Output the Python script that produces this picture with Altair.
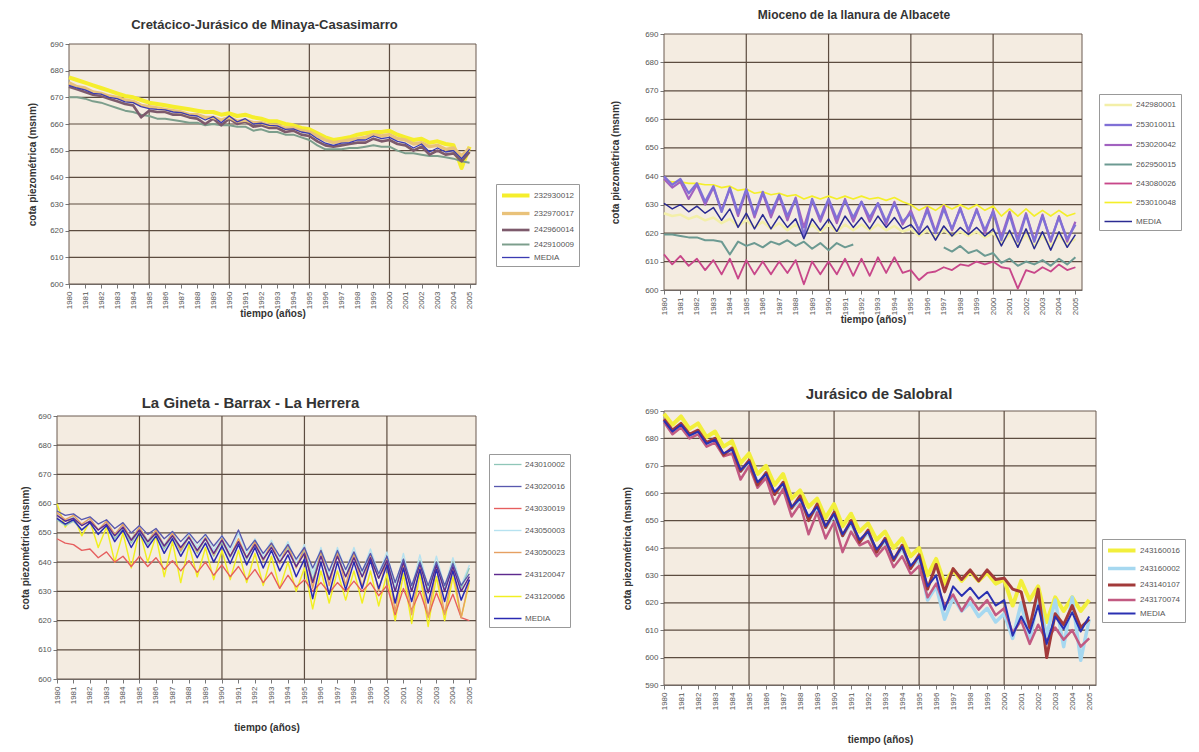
import altair as alt
import pandas as pd

# ---------------- shared axes data ----------------
T = [1980 + 0.5 * i for i in range(51)]          # half-year time grid 1980 .. 2005
YEARS = list(range(1980, 2006))
VGRID = [1985, 1990, 1995, 2000]
X_END = 2005.4

# ---------------- Panel 1 ----------------
P1_TITLE = "Cretácico-Jurásico de Minaya-Casasimarro"
P1_NAMES = ["232930012", "232970017", "242960014", "242910009", "MEDIA"]
P1_COLORS = ["#f5ee2c", "#e9c27a", "#7d5a6c", "#7c9e8c", "#3b3bb2"]
P1_WIDTHS = [4.0, 1.3, 1.3, 1.3, 3.5]
P1_ORDER = ["232930012", "242910009", "242960014", "232970017", "MEDIA"]
p1_232930012 = [677.5, 676.5, 675.5, 674.5, 673.5, 672.5, 671.5, 670.5, 670.0, 669.0,
                668.0, 667.5, 667.0, 666.5, 666.0, 665.5, 665.0, 664.5, 664.5, 663.5,
                664.0, 663.0, 663.5, 662.5, 662.0, 661.0, 661.0, 660.0, 659.5, 658.5,
                658.0, 656.5, 655.0, 654.0, 654.5, 655.0, 656.0, 656.5, 657.0, 657.0,
                657.5, 656.0, 655.0, 654.0, 654.5, 653.0, 653.5, 652.5, 652.0, 643.5,
                651.5]
p1_232970017 = [675.5, 674.0, 673.5, 672.0, 671.5, 670.5, 670.0, 669.0, 668.5, 667.0,
                666.5, 666.0, 665.5, 665.0, 664.5, 663.5, 663.5, 662.5, 662.5, 661.5,
                662.5, 661.0, 661.5, 660.5, 660.5, 659.5, 659.5, 658.5, 658.5, 657.5,
                657.0, 655.5, 654.0, 653.0, 653.5, 654.0, 654.5, 655.0, 656.0, 655.5,
                656.0, 654.5, 654.0, 652.5, 653.0, 651.5, 652.0, 650.5, 651.0, 648.0,
                651.0]
p1_242960014 = [674.0, 673.0, 672.0, 671.0, 670.5, 669.5, 668.5, 667.5, 667.0, 662.5,
                665.0, 664.5, 664.5, 663.5, 663.5, 662.5, 662.0, 660.0, 662.0, 659.5,
                662.0, 660.0, 661.0, 659.0, 659.5, 658.5, 658.5, 657.0, 657.5, 656.0,
                655.5, 653.5, 652.0, 651.5, 652.0, 652.5, 653.0, 653.0, 654.5, 653.5,
                654.0, 652.5, 652.0, 650.0, 651.5, 648.5, 650.0, 648.5, 649.0, 646.0,
                649.5]
p1_242910009 = [670.0, 670.0, 669.5, 668.5, 668.0, 667.0, 666.0, 665.0, 664.5, 663.5,
                663.0, 662.0, 662.0, 661.5, 661.0, 660.5, 660.5, 659.5, 660.0, 659.5,
                659.5, 659.0, 659.0, 657.5, 658.0, 657.0, 657.0, 656.0, 656.0, 655.0,
                654.0, 652.0, 650.5, 650.5, 650.5, 651.0, 651.0, 651.5, 652.0, 651.5,
                651.5, 650.0, 649.0, 649.0, 648.5, 648.0, 648.0, 647.5, 647.0, 646.0,
                645.5]
p1_media = [674.5, 673.5, 672.8, 671.5, 671.2, 670.0, 669.5, 668.3, 668.0, 666.5,
            665.8, 665.5, 665.3, 664.5, 664.3, 663.3, 663.0, 661.5, 662.8, 660.5,
            663.0, 660.8, 662.0, 660.0, 660.3, 659.5, 659.3, 658.0, 658.2, 657.0,
            656.5, 654.5, 652.8, 652.0, 652.8, 653.0, 654.0, 654.0, 655.5, 654.5,
            655.0, 653.5, 652.8, 651.0, 652.5, 649.5, 651.0, 649.5, 650.0, 647.0,
            650.5]

# ---------------- Panel 2 ----------------
P2_TITLE = "Mioceno de la llanura de Albacete"
P2_NAMES = ["242980001", "253010011", "253020042", "262950015", "243080026", "253010048", "MEDIA"]
P2_COLORS = ["#f3efa8", "#8070d6", "#a262c0", "#6c9a92", "#c8478a", "#f4ef2a", "#2b2b92"]
P2_WIDTHS = [2.5, 1.5, 1.5, 1.2, 1.5, 4.0, 3.5]
P2_ORDER = ["242980001", "253010048", "262950015", "243080026", "253020042", "253010011", "MEDIA"]
p2_242980001 = [627.0, 626.0, 626.5, 625.0, 626.0, 624.5, 625.5, 623.5, 625.0, 622.5,
                624.5, 622.0, 624.0, 621.5, 623.5, 621.0, 623.0, 620.0, 623.0, 620.5,
                623.0, 620.5, 623.0, 621.0, 623.0, 621.0, 623.0, 621.0, 622.5, 620.5,
                621.5, 619.0, 621.0, 618.5, 621.0, 619.0, 620.5, 619.0, 620.5, 618.5,
                620.0, 616.5, 619.5, 616.0, 619.5, 615.5, 619.0, 615.5, 619.0, 616.0,
                618.0]
p2_253010011 = [640.0, 637.0, 639.0, 634.0, 637.5, 631.0, 636.5, 627.5, 636.0, 627.0,
                635.5, 626.5, 634.5, 627.0, 633.5, 626.0, 632.0, 619.0, 632.0, 625.0,
                632.0, 625.0, 631.5, 625.5, 631.0, 625.5, 630.5, 624.0, 630.5, 624.0,
                627.0, 621.0, 628.0, 620.0, 628.5, 621.5, 628.5, 621.0, 628.0, 621.0,
                627.5, 617.5, 626.5, 617.0, 626.5, 617.0, 626.0, 617.5, 625.5, 618.0,
                623.0]
p2_253020042 = [639.0, 636.0, 638.0, 632.0, 637.0, 630.0, 636.0, 628.0, 635.5, 626.0,
                635.0, 625.5, 634.0, 625.5, 633.0, 624.5, 632.5, 622.0, 631.5, 624.0,
                631.5, 623.5, 632.0, 624.0, 631.0, 624.0, 630.5, 623.0, 631.0, 623.0,
                628.0, 620.5, 629.0, 620.5, 629.5, 621.0, 629.0, 620.5, 628.5, 620.0,
                628.0, 618.5, 627.5, 618.0, 627.0, 617.5, 626.5, 617.0, 626.0, 617.0,
                624.0]
p2_262950015_a = [619.5, 619.5, 619.0, 618.5, 618.5, 617.5, 617.5, 617.0, 612.5, 617.0,
                  615.5, 616.5, 615.0, 617.0, 616.0, 617.5, 615.5, 617.0, 614.5, 616.5,
                  614.0, 616.5, 615.0, 616.0]
p2_262950015_b = [615.0, 613.5, 615.5, 613.0, 614.0, 612.0, 613.0, 609.5, 611.0, 608.5,
                  610.0, 609.0, 610.5, 608.5, 611.0, 609.0, 611.5]
p2_243080026 = [612.5, 609.0, 612.0, 608.5, 611.0, 607.0, 610.5, 605.5, 611.0, 604.0,
                610.5, 605.5, 610.0, 605.5, 610.0, 606.0, 610.5, 602.0, 610.0, 605.5,
                610.0, 605.5, 611.0, 605.0, 611.0, 605.0, 611.5, 606.0, 611.5, 606.0,
                607.0, 603.5, 606.0, 606.5, 608.0, 607.0, 609.0, 608.5, 610.0, 609.0,
                610.0, 608.0, 607.5, 600.5, 607.0, 606.0, 608.0, 606.5, 609.0, 607.0,
                608.0]
p2_253010048 = [638.5, 638.0, 638.0, 637.5, 637.5, 637.0, 637.0, 636.0, 636.5, 635.0,
                635.5, 634.0, 634.5, 633.5, 634.0, 633.0, 633.5, 632.0, 633.0, 632.0,
                633.0, 632.0, 633.0, 632.0, 633.0, 632.0, 632.5, 631.5, 632.5, 631.0,
                630.0, 628.0, 629.5, 628.0, 630.0, 628.5, 630.0, 628.5, 630.0, 628.0,
                629.5, 626.0, 628.5, 626.0, 628.5, 626.0, 628.0, 626.0, 628.0, 626.0,
                627.0]
p2_media = [630.5, 628.5, 630.0, 627.5, 629.5, 627.0, 629.0, 624.5, 628.5, 622.0,
            627.0, 621.5, 626.5, 621.5, 626.0, 622.0, 625.0, 618.0, 625.0, 621.0,
            625.0, 620.5, 626.0, 622.0, 625.5, 621.5, 626.0, 622.0, 625.5, 621.5,
            623.0, 619.5, 622.5, 617.5, 622.5, 619.0, 622.0, 619.5, 622.0, 619.0,
            621.5, 615.5, 621.0, 615.0, 621.5, 614.5, 620.5, 614.0, 620.5, 615.0,
            619.5]

# ---------------- Panel 3 ----------------
P3_TITLE = "La Gineta - Barrax - La Herrera"
P3_NAMES = ["243010002", "243020016", "243030019", "243050003", "243050023", "243120047", "243120066", "MEDIA"]
P3_COLORS = ["#8fc6b8", "#5858ae", "#e65e5e", "#b6e2f0", "#e6a062", "#5e2a8e", "#f1ef22", "#2a2ab2"]
P3_WIDTHS = [1.3, 1.5, 1.3, 1.6, 1.5, 1.5, 4.0, 3.5]
P3_ORDER = ["243120066", "243050003", "243010002", "243030019", "243050023", "243120047", "243020016", "MEDIA"]
p3_243010002 = [654.5, 652.5, 654.0, 651.0, 653.5, 649.5, 652.5, 648.0, 651.5, 646.5,
                651.0, 646.0, 650.0, 644.5, 649.0, 643.5, 648.5, 643.0, 648.0, 642.0,
                647.0, 641.5, 647.0, 641.0, 646.0, 640.5, 645.5, 639.5, 645.0, 638.5,
                644.0, 634.0, 643.5, 634.0, 643.0, 635.0, 643.0, 635.0, 642.5, 634.5,
                641.5, 630.0, 641.0, 630.0, 640.5, 630.0, 640.0, 630.5, 640.0, 631.0,
                638.0]
p3_243020016 = [657.5, 656.0, 656.5, 654.5, 655.5, 653.0, 654.5, 651.5, 653.5, 650.0,
                652.5, 649.5, 651.5, 648.0, 650.5, 647.0, 650.0, 646.5, 649.5, 645.5,
                649.0, 645.0, 651.0, 644.0, 647.5, 643.0, 646.5, 642.0, 646.0, 641.0,
                645.0, 638.0, 644.0, 637.0, 644.0, 637.5, 643.5, 637.0, 643.0, 636.0,
                642.0, 633.0, 641.0, 632.0, 640.0, 632.0, 640.0, 632.0, 639.5, 632.0,
                636.0]
p3_243030019 = [648.0, 646.5, 646.0, 644.0, 644.5, 641.5, 643.5, 640.0, 642.0, 638.5,
                642.0, 638.5, 641.5, 637.5, 640.5, 637.0, 640.5, 636.5, 640.0, 635.5,
                639.0, 635.0, 638.5, 634.0, 637.5, 633.0, 636.5, 631.0, 635.5, 631.5,
                634.0, 630.0, 633.0, 629.5, 633.0, 630.0, 633.5, 630.0, 633.0, 628.5,
                632.0, 622.0, 631.0, 623.5, 630.0, 621.5, 629.5, 622.5, 629.0, 621.0,
                620.0]
p3_243050003 = [656.0, 654.0, 655.5, 652.5, 655.0, 651.0, 654.0, 649.5, 653.0, 648.0,
                652.0, 647.5, 651.0, 646.0, 650.5, 645.0, 650.0, 645.0, 649.5, 644.0,
                649.0, 643.5, 650.0, 643.0, 648.0, 642.0, 647.5, 641.0, 647.0, 640.0,
                646.0, 636.0, 645.0, 636.0, 645.0, 637.0, 645.0, 636.5, 644.5, 636.0,
                643.5, 631.0, 643.0, 631.0, 642.5, 631.0, 642.0, 631.5, 641.5, 632.0,
                639.0]
p3_243050023 = [657.0, 654.5, 656.0, 653.0, 655.0, 651.0, 654.0, 649.5, 653.0, 647.5,
                652.0, 647.0, 651.0, 645.5, 650.0, 644.0, 649.0, 643.5, 648.5, 642.5,
                648.0, 642.0, 648.0, 641.5, 647.0, 640.5, 646.5, 639.5, 646.0, 638.0,
                645.0, 631.0, 644.0, 632.0, 643.5, 632.0, 643.0, 631.5, 642.5, 630.0,
                641.5, 623.0, 640.0, 622.0, 639.0, 621.0, 638.5, 622.0, 638.0, 621.0,
                634.0]
p3_243120047 = [656.0, 654.0, 655.0, 652.5, 654.0, 651.0, 653.0, 649.0, 652.0, 647.5,
                651.0, 647.0, 650.0, 645.5, 649.0, 645.0, 648.5, 644.0, 648.0, 643.0,
                647.5, 642.0, 647.0, 641.5, 646.0, 641.0, 645.0, 640.0, 644.0, 638.5,
                643.0, 633.0, 642.0, 634.0, 642.0, 635.0, 641.5, 635.0, 641.5, 634.5,
                640.5, 630.0, 640.0, 630.0, 639.5, 629.5, 639.0, 630.0, 638.5, 630.0,
                635.0]
p3_243120066 = [660.0, 652.0, 656.0, 649.0, 654.0, 645.0, 652.0, 640.0, 650.0, 638.0,
                651.0, 640.0, 649.0, 635.0, 647.0, 633.0, 646.0, 635.0, 645.0, 634.0,
                644.0, 634.0, 644.0, 633.0, 643.0, 632.0, 642.0, 631.0, 640.0, 630.0,
                638.0, 624.0, 637.0, 626.0, 637.0, 627.0, 637.0, 626.0, 637.0, 625.0,
                636.0, 620.0, 636.0, 619.0, 636.0, 618.0, 635.0, 620.0, 635.0, 621.0,
                633.0]
p3_media = [655.0, 653.0, 654.5, 651.0, 653.5, 649.5, 652.5, 647.0, 651.0, 645.0,
            650.0, 645.0, 649.0, 643.0, 648.0, 642.0, 647.0, 641.5, 646.5, 640.0,
            645.5, 639.5, 646.0, 639.0, 645.0, 638.0, 644.0, 637.0, 642.5, 635.0,
            641.0, 627.5, 640.0, 629.0, 640.0, 630.5, 640.0, 631.0, 640.5, 631.0,
            639.0, 626.0, 638.0, 626.5, 637.5, 626.0, 637.5, 626.5, 637.0, 627.0,
            634.0]

# ---------------- Panel 4 ----------------
P4_TITLE = "Jurásico de Salobral"
P4_NAMES = ["243160016", "243160002", "243140107", "243170074", "MEDIA"]
P4_COLORS = ["#f2ef3c", "#a6d8f0", "#a23a3a", "#c25a82", "#2a30b2"]
P4_WIDTHS = [4.0, 2.0, 1.3, 1.5, 4.0]
P4_ORDER = ["243160016", "243160002", "243170074", "243140107", "MEDIA"]
p4_243160016 = [689.0, 685.0, 688.0, 683.5, 685.5, 680.5, 682.5, 677.0, 679.0, 671.0,
                674.5, 667.0, 670.0, 663.0, 667.0, 658.0, 661.0, 655.0, 658.0, 651.0,
                656.0, 648.0, 652.5, 646.0, 649.0, 643.0, 646.0, 640.0, 643.5, 637.0,
                640.0, 630.0, 636.0, 627.0, 632.0, 628.0, 631.5, 628.0, 631.0, 627.0,
                628.5, 619.0, 628.0, 621.0, 626.0, 613.0, 622.0, 617.0, 622.0, 617.0,
                621.0]
p4_243160002 = [686.5, 682.0, 685.0, 680.5, 682.0, 677.5, 679.0, 674.0, 675.5, 668.0,
                671.0, 664.0, 666.5, 660.0, 663.0, 654.5, 657.5, 651.0, 654.5, 647.5,
                652.0, 644.5, 649.0, 642.5, 645.5, 639.0, 642.5, 635.5, 640.0, 633.0,
                636.0, 621.0, 626.0, 614.0, 622.0, 617.0, 620.0, 615.0, 618.0, 613.0,
                616.0, 607.0, 620.0, 606.0, 622.0, 608.0, 621.0, 604.0, 622.0, 599.0,
                614.0]
p4_243140107 = [687.0, 683.0, 685.5, 681.5, 683.0, 678.5, 680.0, 674.0, 676.5, 668.0,
                672.0, 663.0, 667.5, 659.5, 664.0, 654.5, 659.0, 650.0, 656.0, 647.5,
                653.0, 644.5, 650.0, 642.0, 646.5, 638.5, 643.5, 635.5, 641.0, 632.5,
                637.5, 625.0, 634.0, 624.0, 632.5, 628.5, 632.0, 628.0, 632.0, 628.5,
                629.0, 625.0, 624.0, 611.0, 625.0, 600.0, 616.0, 612.0, 619.0, 611.0,
                614.0]
p4_243170074 = [686.0, 681.5, 684.0, 680.0, 681.5, 677.0, 678.5, 673.5, 674.5, 665.0,
                670.0, 662.0, 665.5, 656.0, 661.5, 651.5, 656.0, 645.0, 653.0, 643.5,
                649.5, 638.5, 646.0, 641.0, 642.5, 637.0, 640.5, 633.0, 637.0, 630.5,
                633.5, 622.0, 627.0, 619.0, 623.0, 617.0, 622.0, 617.5, 621.0, 615.5,
                618.0, 609.0, 613.5, 605.0, 612.0, 606.0, 611.0, 606.5, 610.0, 604.0,
                607.0]
p4_media = [686.5, 682.5, 685.0, 681.0, 682.5, 678.0, 679.5, 674.5, 676.0, 668.5,
            671.5, 664.0, 667.0, 660.5, 663.5, 655.0, 658.0, 651.5, 655.0, 648.0,
            652.5, 645.0, 649.5, 643.0, 646.0, 639.5, 643.0, 636.0, 640.5, 633.5,
            637.0, 626.0, 630.0, 617.5, 626.0, 622.5, 625.5, 621.5, 624.0, 619.0,
            621.0, 608.0, 615.0, 609.0, 619.0, 605.0, 615.0, 610.5, 616.5, 609.5,
            615.0]

# ---------------- styling ----------------
FONT = "Liberation Sans"
GRID = "#5c4c40"
BORDER = "#6a5a50"
PLOT_BG = "#f4ece1"
Y_TITLE = "cota piezométrica (msnm)"
X_TITLE = "tiempo (años)"
LEG_SYMBOL = "M-1,0L4,0"   # horizontal line symbol, extends to the right of centre


def build_df(series, order):
    rows = []
    for name in order:
        for k, (i0, vals) in enumerate(series[name]):
            for j, v in enumerate(vals):
                rows.append({"t": T[i0 + j], "v": v, "serie": name, "seg": f"{name}-{k}"})
    return pd.DataFrame(rows)


def panel(title, names, colors, widths, series, order, ymin, cell, plot, leg, rowpad,
          title_dx, title_off, title_size, xt_pad, yt_pad):
    W, H = cell
    ox, oy, w, h = plot
    df = build_df(series, order)
    xscale = alt.Scale(domain=[1980, X_END], range=[ox, ox + w], nice=False, zero=False)
    yscale = alt.Scale(domain=[ymin, 690], range=[oy + h, oy], nice=False, zero=False)
    xaxis = alt.Axis(values=YEARS, format="d", labelAngle=270, grid=False,
                     title=X_TITLE, titleFontSize=10, titleFontWeight="bold",
                     titleColor="#333", titlePadding=xt_pad, labelFontSize=8,
                     labelColor="#555", tickColor="#777", tickSize=4,
                     domainColor="#777", labelPadding=3)
    yaxis = alt.Axis(values=list(range(ymin, 691, 10)), grid=False, offset=-ox,
                     title=Y_TITLE, titleFontSize=10,
                     titleFontWeight="bold", titleColor="#333", titlePadding=yt_pad,
                     labelFontSize=8, labelColor="#555", tickColor="#777",
                     tickSize=4, domainColor="#777", labelPadding=2)
    legend = alt.Legend(title=None, orient="none", legendX=leg[0], legendY=leg[1],
                        symbolType=LEG_SYMBOL, symbolSize=121, labelFontSize=8,
                        labelColor="#555", labelFont=FONT, strokeColor="#999",
                        fillColor="white", padding=4, rowPadding=rowpad, labelOffset=19)

    bg_df = pd.DataFrame({"x0": [1980], "x1": [X_END], "y0": [ymin], "y1": [690]})
    hg_df = pd.DataFrame({"g": list(range(ymin + 10, 690, 10))})
    hg_df["x0"] = 1980
    hg_df["x1"] = X_END
    vg_df = pd.DataFrame({"t": VGRID})
    vg_df["y0"] = ymin
    vg_df["y1"] = 690

    bg = alt.Chart(bg_df).mark_rect(fill=PLOT_BG, stroke=BORDER, strokeWidth=1).encode(
        x=alt.X("x0:Q", scale=xscale, axis=xaxis), x2="x1:Q",
        y=alt.Y("y0:Q", scale=yscale, axis=yaxis), y2="y1:Q")
    hgrid = alt.Chart(hg_df).mark_rule(color=GRID, strokeWidth=1.2).encode(
        x=alt.X("x0:Q", scale=xscale, axis=xaxis), x2="x1:Q",
        y=alt.Y("g:Q", scale=yscale, axis=yaxis))
    vgrid = alt.Chart(vg_df).mark_rule(color=GRID, strokeWidth=1.2).encode(
        x=alt.X("t:Q", scale=xscale, axis=xaxis),
        y=alt.Y("y0:Q", scale=yscale, axis=yaxis), y2="y1:Q")
    lines = alt.Chart(df).mark_line(strokeJoin="round").encode(
        x=alt.X("t:Q", scale=xscale, axis=xaxis),
        y=alt.Y("v:Q", scale=yscale, axis=yaxis),
        color=alt.Color("serie:N", scale=alt.Scale(domain=names, range=colors), legend=legend),
        strokeWidth=alt.StrokeWidth("serie:N", scale=alt.Scale(domain=names, range=widths),
                                    legend=legend),
        detail="seg:N",
    )
    return alt.layer(bg, hgrid, vgrid, lines).properties(
        width=W, height=H,
        title=alt.TitleParams(title, fontSize=title_size, fontWeight="bold", color="#333",
                              font=FONT, anchor="middle", dx=title_dx, offset=title_off),
    )


s1 = {"232930012": [(0, p1_232930012)], "232970017": [(0, p1_232970017)],
      "242960014": [(0, p1_242960014)], "242910009": [(0, p1_242910009)],
      "MEDIA": [(0, p1_media)]}
s2 = {"242980001": [(0, p2_242980001)], "253010011": [(0, p2_253010011)],
      "253020042": [(0, p2_253020042)],
      "262950015": [(0, p2_262950015_a), (34, p2_262950015_b)],
      "243080026": [(0, p2_243080026)], "253010048": [(0, p2_253010048)],
      "MEDIA": [(0, p2_media)]}
s3 = {"243010002": [(0, p3_243010002)], "243020016": [(0, p3_243020016)],
      "243030019": [(0, p3_243030019)], "243050003": [(0, p3_243050003)],
      "243050023": [(0, p3_243050023)], "243120047": [(0, p3_243120047)],
      "243120066": [(0, p3_243120066)], "MEDIA": [(0, p3_media)]}
s4 = {"243160016": [(0, p4_243160016)], "243160002": [(0, p4_243160002)],
      "243140107": [(0, p4_243140107)], "243170074": [(0, p4_243170074)],
      "MEDIA": [(0, p4_media)]}

#            cell(W,H)    plot(ox,oy,w,h)      legend(x,y)
c1 = panel(P1_TITLE, P1_NAMES, P1_COLORS, P1_WIDTHS, s1, P1_ORDER, 600,
           (419, 250), (12, 10, 407, 240), (439, 150), 2, -2, 2, 13, 0, 12)
c2 = panel(P2_TITLE, P2_NAMES, P2_COLORS, P2_WIDTHS, s2, P2_ORDER, 600,
           (418, 256), (0, 0, 418, 256), (435, 60), 8, -19, 8, 12, 0, 24)
c3 = panel(P3_TITLE, P3_NAMES, P3_COLORS, P3_WIDTHS, s3, P3_ORDER, 600,
           (419, 268), (0, 5, 419, 263), (432, 43), 11, -16, 0, 15, 19, 7)
c4 = panel(P4_TITLE, P4_NAMES, P4_COLORS, P4_WIDTHS, s4, P4_ORDER, 590,
           (432, 274), (0, 0, 432, 274), (438, 128), 2, -1, 5, 15, 25, 12)

chart = alt.concat(c1, c2, c3, c4, columns=2, spacing={"row": 121, "column": 188},
                   align="each", bounds="flush").resolve_scale(
    x="independent", y="independent", color="independent", strokeWidth="independent"
).resolve_legend(color="independent", strokeWidth="independent").properties(
    padding={"left": 12, "top": 0, "right": 5, "bottom": 5},
    background="white",
).configure(font=FONT).configure_view(fill="transparent", stroke="transparent")

chart.save("out.html", embed_options={"renderer": "svg", "actions": False})
